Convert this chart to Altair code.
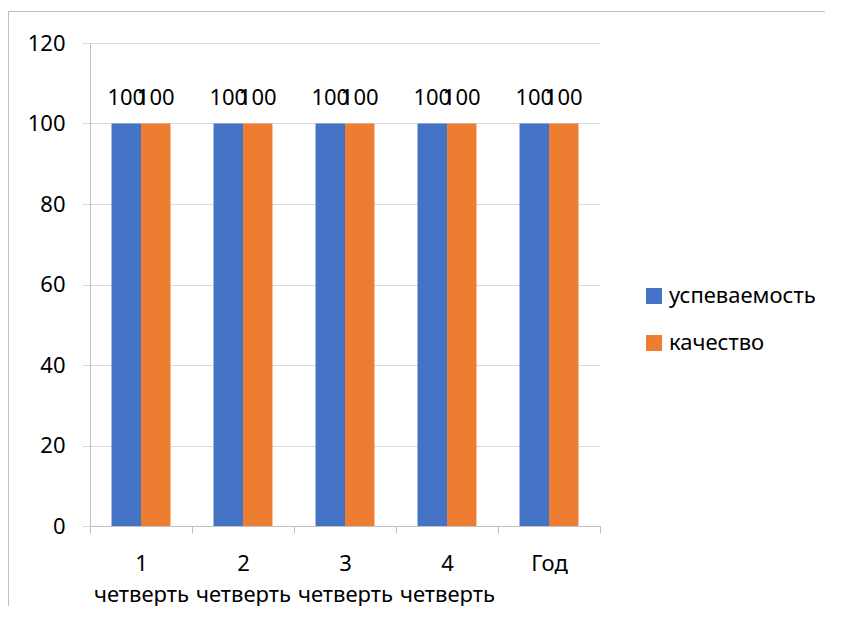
import altair as alt
import pandas as pd

categories = ["1 четверть", "2 четверть", "3 четверть", "4 четверть", "Год"]
series = ["успеваемость", "качество"]
uspevaemost = [100, 100, 100, 100, 100]
kachestvo = [100, 100, 100, 100, 100]
colors = ["#4472C4", "#ED7D31"]
y_ticks = [0, 20, 40, 60, 80, 100, 120]

rows = []
for i, c in enumerate(categories):
    rows.append({"cat": c, "series": series[0], "value": uspevaemost[i]})
    rows.append({"cat": c, "series": series[1], "value": kachestvo[i]})
df = pd.DataFrame(rows)

FONT = "Noto Sans"
FS = 22

x_enc = alt.X(
    "cat:N", sort=categories, title=None,
    scale=alt.Scale(paddingInner=0, paddingOuter=0),
    axis=alt.Axis(
        labelAngle=0, tickBand="extent", ticks=True, tickSize=7,
        tickColor="#BFBFBF", domainColor="#BFBFBF", grid=False,
        labelExpr="split(datum.label, ' ')", labelLineHeight=31,
        labelPadding=20, labelOverlap=False, labelFont=FONT,
        labelFontSize=FS, labelColor="#000000", labelBaseline="top",
    ),
)
xoff_enc = alt.XOffset(
    "series:N", sort=series,
    scale=alt.Scale(paddingInner=0, paddingOuter=0.73),
)
y_enc = alt.Y(
    "value:Q", title=None,
    scale=alt.Scale(domain=[0, 120], nice=False),
    axis=alt.Axis(
        values=y_ticks, grid=True, gridColor="#D9D9D9", tickColor="#D9D9D9",
        tickSize=8, domainColor="#BFBFBF", labelPadding=17, labelFont=FONT,
        labelFontSize=FS, labelColor="#000000",
    ),
)
color_enc = alt.Color(
    "series:N", sort=series,
    scale=alt.Scale(domain=series, range=colors),
    legend=alt.Legend(
        title=None, orient="none", legendX=553, legendY=242,
        symbolType="square", symbolSize=256, symbolStrokeWidth=0,
        labelFont=FONT, labelFontSize=FS, labelColor="#000000",
        labelOffset=4, rowPadding=25, padding=0,
    ),
)

bars = alt.Chart(df).mark_bar().encode(
    x=x_enc, xOffset=xoff_enc, y=y_enc, color=color_enc
)
labels = alt.Chart(df).mark_text(
    font=FONT, fontSize=FS, color="#000000", baseline="alphabetic", dy=-19
).encode(
    x=alt.X("cat:N", sort=categories),
    xOffset=alt.XOffset("series:N", sort=series),
    y="value:Q",
    text="value:Q",
)

frame_df = pd.DataFrame({"a": [0]})
border_top = alt.Chart(frame_df).mark_rule(color="#BFBFBF", strokeWidth=1).encode(
    x=alt.value(-82), x2=alt.value(800), y=alt.value(-31.5)
)
border_left = alt.Chart(frame_df).mark_rule(color="#BFBFBF", strokeWidth=1).encode(
    x=alt.value(-81.5), y=alt.value(-32), y2=alt.value(600)
)

chart = alt.layer(border_top, border_left, bars, labels).properties(
    width=510, height=483,
    autosize=alt.AutoSizeParams(type="none"),
    padding={"left": 82, "top": 35, "right": 225, "bottom": 80},
).configure_view(stroke=None)

chart.save("out.html", embed_options={"renderer": "svg", "actions": False})
